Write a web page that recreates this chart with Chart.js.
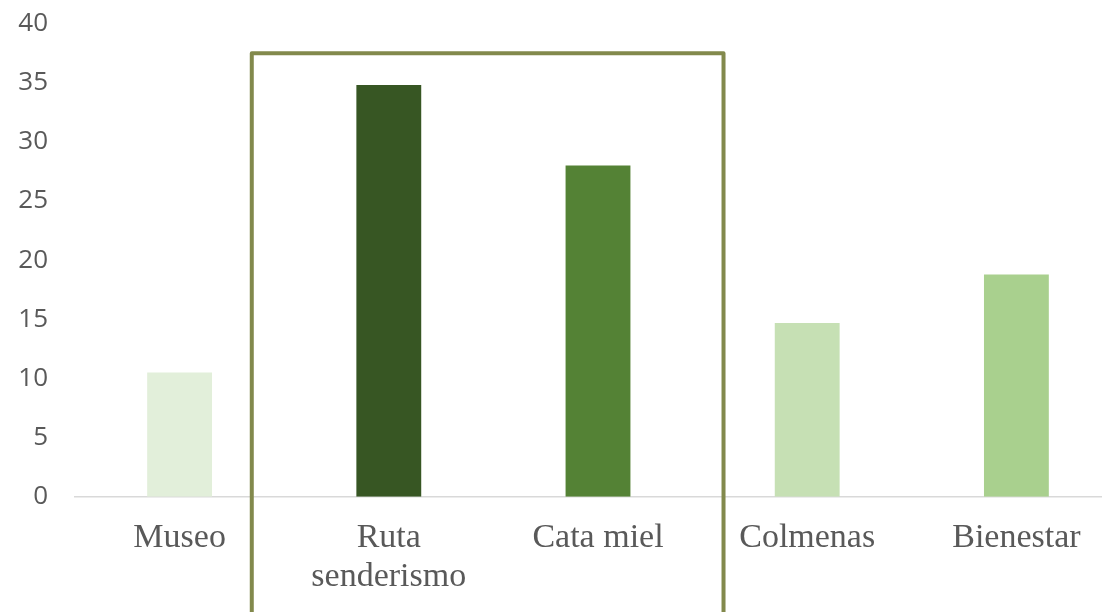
<!DOCTYPE html>
<html>
<head>
<meta charset="utf-8">
<script src="https://cdn.jsdelivr.net/npm/chart.js@4/dist/chart.umd.min.js"></script>
<style>
    html, body { margin: 0; padding: 0; background: #fff; overflow: hidden; }
    #wrap { position: relative; top: -19px; width: 1125px; height: 640px; }
</style>
</head>
<body>
<div id="wrap"><canvas id="myChart"></canvas></div>
<script>
const categorias = ['Museo', ['Ruta', 'senderismo'], 'Cata miel', 'Colmenas', 'Bienestar'];
const valores = [10.5, 34.8, 28, 14.7, 18.8];
const colores = ['#E2EFDA', '#375623', '#548235', '#C6E0B4', '#A9D08E'];
const ticksY = [0, 5, 10, 15, 20, 25, 30, 35, 40];

// recuadro que marca las dos actividades destacadas (en unidades de los ejes)
const recuadro = { xDesde: 0.345, xHasta: 2.6, yArriba: 37.5 };

const recuadroPlugin = {
    id: 'recuadro',
    afterDatasetsDraw(chart) {
        const ctx = chart.ctx;
        const x = chart.scales.x;
        const y = chart.scales.y;
        const left = x.getPixelForValue(recuadro.xDesde);
        const right = x.getPixelForValue(recuadro.xHasta);
        const top = y.getPixelForValue(recuadro.yArriba);
        ctx.save();
        ctx.strokeStyle = '#82894C';
        ctx.lineWidth = 4;
        ctx.lineJoin = 'round';
        ctx.strokeRect(left, top, right - left, chart.height + 20 - top);
        ctx.restore();
    }
};

let ctx = document.getElementById('myChart').getContext('2d');
let actividadesChart = new Chart(ctx, {
    type: 'bar',
    data: {
        labels: categorias,
        datasets: [{
            data: valores,
            backgroundColor: colores,
            categoryPercentage: 1,
            barPercentage: 0.31
        }]
    },
    options: {
        responsive: true,
        maintainAspectRatio: false,
        animation: false,
        plugins: {
            legend: { display: false },
            tooltip: { enabled: false }
        },
        layout: {
            padding: { left: 0, right: 4, top: 0, bottom: 2 }
        },
        scales: {
            x: {
                grid: { display: false, drawTicks: false },
                border: { display: true, color: '#D9D9D9', width: 1.5 },
                ticks: {
                    color: '#595959',
                    padding: 22,
                    maxRotation: 0,
                    font: { family: 'Liberation Serif', size: 34, lineHeight: 1.15 }
                }
            },
            y: {
                min: 0,
                max: 40,
                afterBuildTicks(axis) {
                    axis.ticks = ticksY.map(v => ({ value: v }));
                },
                afterFit(axis) {
                    axis.width = 75;
                },
                grid: { display: false, drawTicks: false },
                border: { display: false },
                ticks: {
                    color: '#595959',
                    padding: 27,
                    font: { family: 'Open Sans', size: 26 }
                }
            }
        }
    },
    plugins: [recuadroPlugin]
});
</script>
</body>
</html>
